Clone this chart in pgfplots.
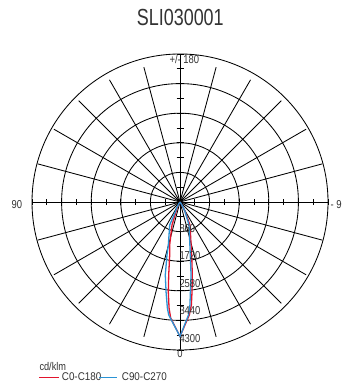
\documentclass[border=0pt]{standalone}
\usepackage{pgfplots}
\usepackage{pgfplotstable}
\pgfplotsset{compat=1.18}
\usepackage{fontspec}
\setmainfont{Liberation Sans}
\newfontfamily\cnT{Liberation Sans}[FakeStretch=0.77]
\newfontfamily\cnA{Liberation Sans}[FakeStretch=0.82]
\newfontfamily\cnL{Liberation Sans}[FakeStretch=0.88]
\definecolor{cred}{HTML}{E2142D}
\definecolor{cblue}{HTML}{2A93D5}
\definecolor{txt}{HTML}{333333}

\pgfplotstableread{
g I
-40 0
-33 100
-28 300
-23.5 729
-12.4 1577
-9.6 2150
-7.6 2638
-6.3 3010
-4.7 3294
0 3907
4.6 3381
5.9 3096
7.4 2636
8.8 2146
11 1568
13.5 1284
19.2 708
21 404
25 200
30 100
40 0
}\redtab

\pgfplotstableread{
g I
-40 0
-33 100
-28 300
-21.4 717
-11 1568
-8.6 2145
-5.5 3007
-4.3 3292
0 3907
5.7 3300
6.8 3102
8.8 2646
11.4 2163
13.8 1585
15.2 1295
24.1 732
25 416
30 150
35 50
40 0
}\bluetab

\begin{document}
\begin{tikzpicture}[x=1pt,y=1pt]
\useasboundingbox (0,0) rectangle (341,385);
\fill[white] (0,0) rectangle (341,385);
\begin{scope}[shift={(180,183)}, line width=0.85pt, black]
  \foreach \k in {1,...,5} \draw (0,0) circle ({29.6*\k});
  \foreach \t in {15,30,45,60,75,105,120,135,150,165,195,210,225,240,255,285,300,315,330,345} {
    \pgfmathsetmacro\rr{100*1.48*1.39/sqrt((1.39*cos(\t))^2+(1.48*sin(\t))^2)}
    \draw (0,0) -- ({\rr*cos(\t)},{\rr*sin(\t)});
  }
  \draw (-148,0) -- (148,0);
  \draw (0,-148) -- (0,148);
  \foreach \k in {1,...,10} {
    \draw (-3.5,{14.8*\k}) -- (3.5,{14.8*\k});
    \draw (-3.5,{-14.8*\k}) -- (3.5,{-14.8*\k});
    \draw ({14.8*\k},-3) -- ({14.8*\k},3);
    \draw ({-14.8*\k},-3) -- ({-14.8*\k},3);
  }
\end{scope}

\begin{axis}[at={(180pt,183pt)}, anchor=origin, width=296pt, height=296pt,
  scale only axis, xmin=-4300, xmax=4300, ymin=-4300, ymax=4300,
  hide axis, clip=false]
\addplot[cred, line width=1.3pt, data cs=polar] table[x expr={-90-\thisrow{g}}, y=I] {\redtab};
\addplot[cblue, line width=1.3pt, data cs=polar] table[x expr={-90-\thisrow{g}}, y=I] {\bluetab};
\end{axis}

\begin{scope}[every node/.style={inner sep=0pt, text=txt}]
\node[anchor=center, font=\cnT\fontsize{23.3}{24}\selectfont] at (180.3,367.3) {SLI030001};
\node[anchor=west, font=\cnA\fontsize{11.5}{12}\selectfont] at (169.3,325.5) {+/- 180};
\node[anchor=west, font=\cnA\fontsize{11.5}{12}\selectfont] at (11.5,180.7) {90};
\node[anchor=west, font=\cnA\fontsize{11.5}{12}\selectfont] at (330.5,180.7) {- 90};
\node[anchor=center, font=\cnA\fontsize{11.5}{12}\selectfont] at (180,31.7) {0};
\foreach \v/\y in {860/156.7,1720/129,2580/101,3440/74,4300/46.7}
  \node[anchor=west, font=\cnA\fontsize{11.5}{12}\selectfont] at (179.3,\y) {\v};
\node[anchor=base west, font=\cnA\fontsize{11.2}{12}\selectfont] at (39.3,14) {cd/klm};
\draw[cred, line width=1pt] (39.3,7.7) -- (59.3,7.7);
\node[anchor=base west, font=\cnL\fontsize{11.2}{12}\selectfont] at (61.7,4.3) {C0-C180};
\draw[cblue, line width=1pt] (99.3,7.7) -- (116.7,7.7);
\node[anchor=base west, font=\cnL\fontsize{11.2}{12}\selectfont] at (121.7,4.3) {C90-C270};
\end{scope}
\end{tikzpicture}
\end{document}
